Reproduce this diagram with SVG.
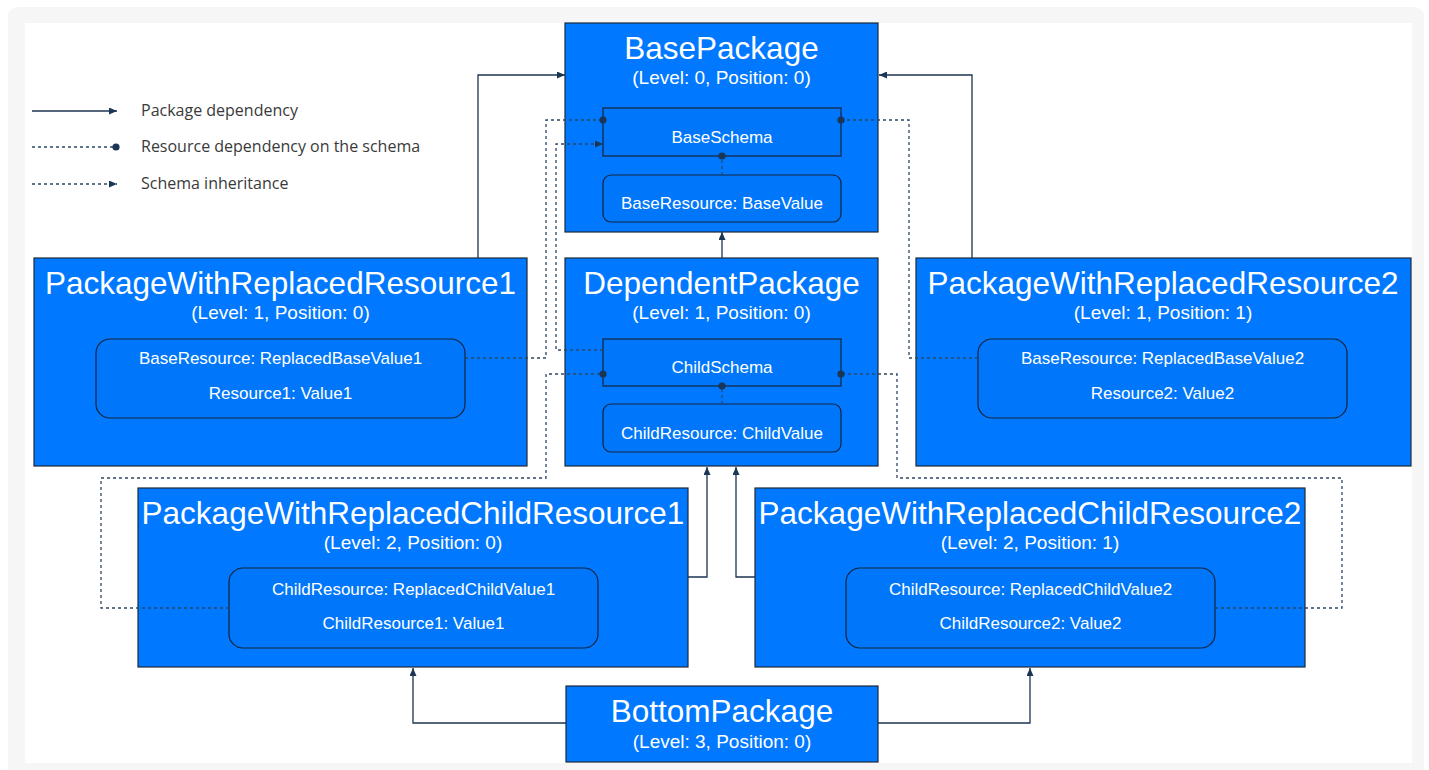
<svg xmlns="http://www.w3.org/2000/svg" width="1429" height="770" viewBox="0 0 1429 770">
  <defs>
    <marker id="arrow" viewBox="0 0 8 7" refX="8" refY="3.5" markerWidth="8" markerHeight="7" markerUnits="userSpaceOnUse" orient="auto">
      <path d="M0,0 L8,3.5 L0,7 z" fill="#1b3554"/>
    </marker>
    <marker id="dot" viewBox="0 0 8 8" refX="4" refY="4" markerWidth="8" markerHeight="8" markerUnits="userSpaceOnUse" orient="auto">
      <circle cx="4" cy="4" r="3.6" fill="#1b3554"/>
    </marker>
    <style>
      .pkg { fill: #0078ff; stroke: #1c2a3a; stroke-width: 1.2; }
      .schema { fill: #0077fa; stroke: #14243a; stroke-width: 1.2; }
      .res { fill: #0077fa; stroke: #14243a; stroke-width: 1.2; }
      .title { font-family: "Liberation Sans", Arial, sans-serif; font-size: 31.5px; fill: #ffffff; text-anchor: middle; }
      .sub { font-family: "Liberation Sans", Arial, sans-serif; font-size: 19px; fill: #ffffff; text-anchor: middle; }
      .inner { font-family: "Liberation Sans", Arial, sans-serif; font-size: 17px; fill: #ffffff; text-anchor: middle; }
      .legend { font-family: "Open Sans", "Liberation Sans", sans-serif; font-size: 16px; fill: #3a3a3a; }
      .dep { fill: none; stroke: #1b3554; stroke-width: 1.3; marker-end: url(#arrow); }
      .res-dep { fill: none; stroke: #2c4866; stroke-width: 1.3; stroke-dasharray: 3 3; marker-end: url(#dot); }
      .inherit { fill: none; stroke: #2c4866; stroke-width: 1.3; stroke-dasharray: 3 3; marker-end: url(#arrow); }
    </style>
  </defs>

  <!-- page frame -->
  <rect x="0" y="0" width="1429" height="770" fill="#ffffff"/>
  <rect x="8" y="7" width="1416" height="775" rx="9" fill="#f6f6f6"/>
  <rect x="25" y="23" width="1387" height="740" fill="#ffffff"/>

  <!-- legend -->
  <g id="legend">
    <line x1="32" y1="111" x2="117" y2="111" class="dep"/>
    <text x="141" y="116" class="legend">Package dependency</text>
    <line x1="32" y1="147" x2="116" y2="147" class="res-dep"/>
    <text x="141" y="152" class="legend">Resource dependency on the schema</text>
    <line x1="32" y1="184" x2="117" y2="184" class="inherit"/>
    <text x="141" y="189" class="legend">Schema inheritance</text>
  </g>

  <!-- BasePackage -->
  <g id="base-package">
    <rect x="565" y="23" width="313" height="209" class="pkg"/>
    <text x="721.5" y="59" class="title">BasePackage</text>
    <text x="721.5" y="84" class="sub">(Level: 0, Position: 0)</text>
    <rect x="603" y="108" width="238" height="48" class="schema"/>
    <text x="722" y="143" class="inner">BaseSchema</text>
    <rect x="603" y="175" width="238" height="47" rx="8" class="res"/>
    <text x="722" y="209" class="inner">BaseResource: BaseValue</text>
  </g>

  <!-- PackageWithReplacedResource1 -->
  <g id="package-replaced-resource-1">
    <rect x="34" y="258" width="493" height="208" class="pkg"/>
    <text x="280.5" y="294" class="title">PackageWithReplacedResource1</text>
    <text x="280.5" y="319" class="sub">(Level: 1, Position: 0)</text>
    <rect x="96" y="339" width="369" height="79" rx="14" class="res"/>
    <text x="280.5" y="364" class="inner">BaseResource: ReplacedBaseValue1</text>
    <text x="280.5" y="399" class="inner">Resource1: Value1</text>
  </g>

  <!-- DependentPackage -->
  <g id="dependent-package">
    <rect x="565" y="258" width="313" height="208" class="pkg"/>
    <text x="721.5" y="294" class="title">DependentPackage</text>
    <text x="721.5" y="319" class="sub">(Level: 1, Position: 0)</text>
    <rect x="603" y="339" width="238" height="47" class="schema"/>
    <text x="722" y="373" class="inner">ChildSchema</text>
    <rect x="603" y="404" width="238" height="48" rx="8" class="res"/>
    <text x="722" y="439" class="inner">ChildResource: ChildValue</text>
  </g>

  <!-- PackageWithReplacedResource2 -->
  <g id="package-replaced-resource-2">
    <rect x="916" y="258" width="495" height="208" class="pkg"/>
    <text x="1163" y="294" class="title">PackageWithReplacedResource2</text>
    <text x="1163" y="319" class="sub">(Level: 1, Position: 1)</text>
    <rect x="978" y="339" width="369" height="79" rx="14" class="res"/>
    <text x="1162.5" y="364" class="inner">BaseResource: ReplacedBaseValue2</text>
    <text x="1162.5" y="399" class="inner">Resource2: Value2</text>
  </g>

  <!-- PackageWithReplacedChildResource1 -->
  <g id="package-replaced-child-resource-1">
    <rect x="138" y="488" width="550" height="179" class="pkg"/>
    <text x="413" y="524" class="title">PackageWithReplacedChildResource1</text>
    <text x="413" y="549" class="sub">(Level: 2, Position: 0)</text>
    <rect x="229" y="568" width="369" height="80" rx="14" class="res"/>
    <text x="413.5" y="595" class="inner">ChildResource: ReplacedChildValue1</text>
    <text x="413.5" y="629" class="inner">ChildResource1: Value1</text>
  </g>

  <!-- PackageWithReplacedChildResource2 -->
  <g id="package-replaced-child-resource-2">
    <rect x="755" y="488" width="550" height="179" class="pkg"/>
    <text x="1030" y="524" class="title">PackageWithReplacedChildResource2</text>
    <text x="1030" y="549" class="sub">(Level: 2, Position: 1)</text>
    <rect x="846" y="568" width="369" height="80" rx="14" class="res"/>
    <text x="1030.5" y="595" class="inner">ChildResource: ReplacedChildValue2</text>
    <text x="1030.5" y="629" class="inner">ChildResource2: Value2</text>
  </g>

  <!-- BottomPackage -->
  <g id="bottom-package">
    <rect x="566" y="686" width="312" height="76" class="pkg"/>
    <text x="722" y="722" class="title">BottomPackage</text>
    <text x="722" y="748" class="sub">(Level: 3, Position: 0)</text>
  </g>

  <!-- connectors, drawn over the packages -->
  <g id="connectors">
    <!-- package dependencies -->
    <polyline points="478,258 478,75 565,75" class="dep"/>
    <polyline points="972,258 972,75 879,75" class="dep"/>
    <polyline points="722,258 722,232" class="dep"/>
    <polyline points="688,577 707,577 707,467" class="dep"/>
    <polyline points="755,577 736,577 736,467" class="dep"/>
    <polyline points="566,723 413,723 413,668" class="dep"/>
    <polyline points="878,723 1030,723 1030,668" class="dep"/>

    <!-- schema inheritance -->
    <polyline points="603,350 556,350 556,144 603,144" class="inherit"/>

    <!-- resource dependencies on schemas -->
    <polyline points="722,175 722,156" class="res-dep"/>
    <polyline points="722,404 722,386" class="res-dep"/>
    <polyline points="465,358 546,358 546,120 603,120" class="res-dep"/>
    <polyline points="978,358 909,358 909,120 841,120" class="res-dep"/>
    <polyline points="229,608 101,608 101,478 546,478 546,374 603,374" class="res-dep"/>
    <polyline points="1215,608 1342,608 1342,478 897,478 897,374 841,374" class="res-dep"/>
  </g>
</svg>
